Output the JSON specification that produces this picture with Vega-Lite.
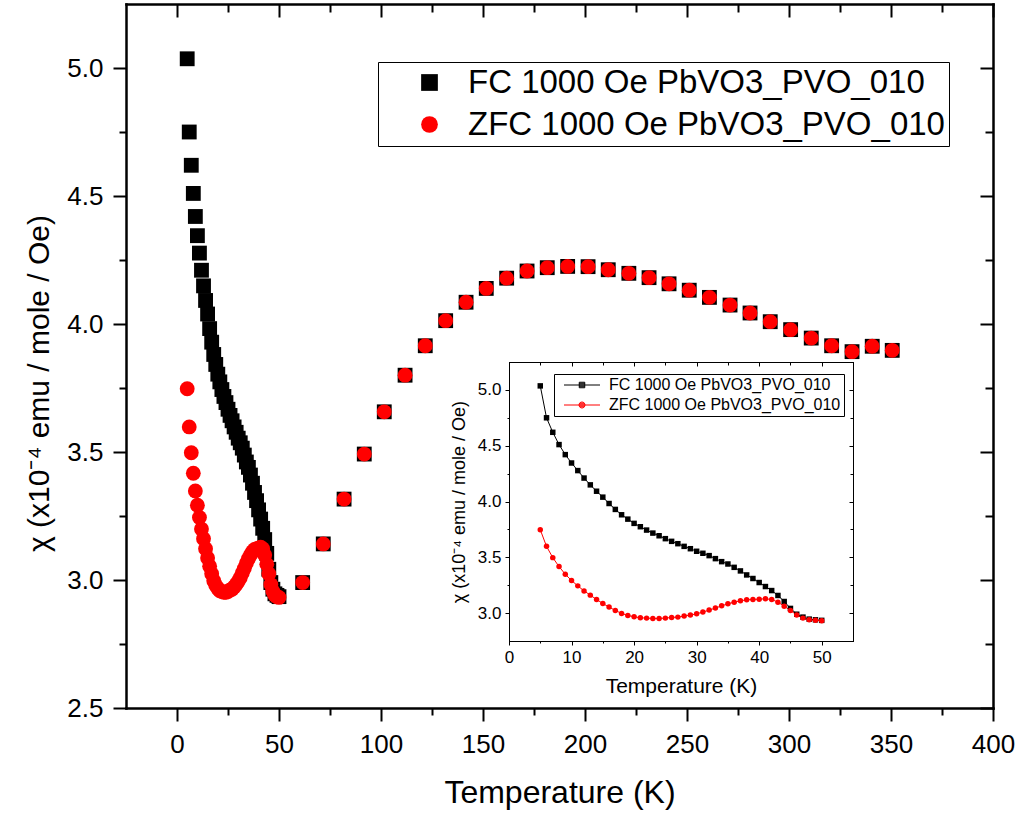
{
  "$schema": "https://vega.github.io/schema/vega-lite/v6.json",
  "width": 867,
  "height": 704,
  "autosize": {"type": "none"},
  "padding": {"left": 126, "top": 4, "right": 26, "bottom": 105},
  "background": "white",
  "config": {
    "view": {"stroke": null},
    "font": "Liberation Sans",
    "axis": {"grid": false, "domainColor": "#000000", "tickColor": "#000000", "labelColor": "#000000", "titleColor": "#000000", "titleFontWeight": "normal", "labelFont": "Liberation Sans", "titleFont": "Liberation Sans", "labelOverlap": false, "labelFlush": false, "domainCap": "square"},
    "legend": {"labelFont": "Liberation Sans", "labelColor": "#000000"}
  },
  "datasets": {
    "d": [
      {"T": 5, "chi": 5.036, "series": "FC 1000 Oe PbVO3_PVO_010"},
      {"T": 6, "chi": 4.75, "series": "FC 1000 Oe PbVO3_PVO_010"},
      {"T": 7, "chi": 4.62, "series": "FC 1000 Oe PbVO3_PVO_010"},
      {"T": 8, "chi": 4.51, "series": "FC 1000 Oe PbVO3_PVO_010"},
      {"T": 9, "chi": 4.42, "series": "FC 1000 Oe PbVO3_PVO_010"},
      {"T": 10, "chi": 4.345, "series": "FC 1000 Oe PbVO3_PVO_010"},
      {"T": 11, "chi": 4.277, "series": "FC 1000 Oe PbVO3_PVO_010"},
      {"T": 12, "chi": 4.21, "series": "FC 1000 Oe PbVO3_PVO_010"},
      {"T": 13, "chi": 4.149, "series": "FC 1000 Oe PbVO3_PVO_010"},
      {"T": 14, "chi": 4.092, "series": "FC 1000 Oe PbVO3_PVO_010"},
      {"T": 15, "chi": 4.039, "series": "FC 1000 Oe PbVO3_PVO_010"},
      {"T": 16, "chi": 3.982, "series": "FC 1000 Oe PbVO3_PVO_010"},
      {"T": 17, "chi": 3.929, "series": "FC 1000 Oe PbVO3_PVO_010"},
      {"T": 18, "chi": 3.881, "series": "FC 1000 Oe PbVO3_PVO_010"},
      {"T": 19, "chi": 3.842, "series": "FC 1000 Oe PbVO3_PVO_010"},
      {"T": 20, "chi": 3.804, "series": "FC 1000 Oe PbVO3_PVO_010"},
      {"T": 21, "chi": 3.774, "series": "FC 1000 Oe PbVO3_PVO_010"},
      {"T": 22, "chi": 3.744, "series": "FC 1000 Oe PbVO3_PVO_010"},
      {"T": 23, "chi": 3.717, "series": "FC 1000 Oe PbVO3_PVO_010"},
      {"T": 24, "chi": 3.693, "series": "FC 1000 Oe PbVO3_PVO_010"},
      {"T": 25, "chi": 3.667, "series": "FC 1000 Oe PbVO3_PVO_010"},
      {"T": 26, "chi": 3.643, "series": "FC 1000 Oe PbVO3_PVO_010"},
      {"T": 27, "chi": 3.622, "series": "FC 1000 Oe PbVO3_PVO_010"},
      {"T": 28, "chi": 3.598, "series": "FC 1000 Oe PbVO3_PVO_010"},
      {"T": 29, "chi": 3.577, "series": "FC 1000 Oe PbVO3_PVO_010"},
      {"T": 30, "chi": 3.554, "series": "FC 1000 Oe PbVO3_PVO_010"},
      {"T": 31, "chi": 3.536, "series": "FC 1000 Oe PbVO3_PVO_010"},
      {"T": 32, "chi": 3.515, "series": "FC 1000 Oe PbVO3_PVO_010"},
      {"T": 33, "chi": 3.488, "series": "FC 1000 Oe PbVO3_PVO_010"},
      {"T": 34, "chi": 3.461, "series": "FC 1000 Oe PbVO3_PVO_010"},
      {"T": 35, "chi": 3.44, "series": "FC 1000 Oe PbVO3_PVO_010"},
      {"T": 36, "chi": 3.41, "series": "FC 1000 Oe PbVO3_PVO_010"},
      {"T": 37, "chi": 3.378, "series": "FC 1000 Oe PbVO3_PVO_010"},
      {"T": 38, "chi": 3.342, "series": "FC 1000 Oe PbVO3_PVO_010"},
      {"T": 39, "chi": 3.31, "series": "FC 1000 Oe PbVO3_PVO_010"},
      {"T": 40, "chi": 3.274, "series": "FC 1000 Oe PbVO3_PVO_010"},
      {"T": 41, "chi": 3.238, "series": "FC 1000 Oe PbVO3_PVO_010"},
      {"T": 42, "chi": 3.202, "series": "FC 1000 Oe PbVO3_PVO_010"},
      {"T": 43, "chi": 3.158, "series": "FC 1000 Oe PbVO3_PVO_010"},
      {"T": 44, "chi": 3.104, "series": "FC 1000 Oe PbVO3_PVO_010"},
      {"T": 45, "chi": 3.042, "series": "FC 1000 Oe PbVO3_PVO_010"},
      {"T": 46, "chi": 2.99, "series": "FC 1000 Oe PbVO3_PVO_010"},
      {"T": 47, "chi": 2.964, "series": "FC 1000 Oe PbVO3_PVO_010"},
      {"T": 48, "chi": 2.946, "series": "FC 1000 Oe PbVO3_PVO_010"},
      {"T": 49, "chi": 2.94, "series": "FC 1000 Oe PbVO3_PVO_010"},
      {"T": 50, "chi": 2.935, "series": "FC 1000 Oe PbVO3_PVO_010"},
      {"T": 61.6, "chi": 2.99, "series": "FC 1000 Oe PbVO3_PVO_010"},
      {"T": 71.7, "chi": 3.141, "series": "FC 1000 Oe PbVO3_PVO_010"},
      {"T": 81.9, "chi": 3.316, "series": "FC 1000 Oe PbVO3_PVO_010"},
      {"T": 91.8, "chi": 3.492, "series": "FC 1000 Oe PbVO3_PVO_010"},
      {"T": 101.6, "chi": 3.657, "series": "FC 1000 Oe PbVO3_PVO_010"},
      {"T": 111.8, "chi": 3.8, "series": "FC 1000 Oe PbVO3_PVO_010"},
      {"T": 121.7, "chi": 3.915, "series": "FC 1000 Oe PbVO3_PVO_010"},
      {"T": 131.7, "chi": 4.013, "series": "FC 1000 Oe PbVO3_PVO_010"},
      {"T": 141.7, "chi": 4.085, "series": "FC 1000 Oe PbVO3_PVO_010"},
      {"T": 151.6, "chi": 4.139, "series": "FC 1000 Oe PbVO3_PVO_010"},
      {"T": 161.6, "chi": 4.179, "series": "FC 1000 Oe PbVO3_PVO_010"},
      {"T": 171.6, "chi": 4.207, "series": "FC 1000 Oe PbVO3_PVO_010"},
      {"T": 181.5, "chi": 4.22, "series": "FC 1000 Oe PbVO3_PVO_010"},
      {"T": 191.5, "chi": 4.225, "series": "FC 1000 Oe PbVO3_PVO_010"},
      {"T": 201.5, "chi": 4.224, "series": "FC 1000 Oe PbVO3_PVO_010"},
      {"T": 211.4, "chi": 4.212, "series": "FC 1000 Oe PbVO3_PVO_010"},
      {"T": 221.5, "chi": 4.198, "series": "FC 1000 Oe PbVO3_PVO_010"},
      {"T": 231.4, "chi": 4.181, "series": "FC 1000 Oe PbVO3_PVO_010"},
      {"T": 241.2, "chi": 4.157, "series": "FC 1000 Oe PbVO3_PVO_010"},
      {"T": 251.1, "chi": 4.132, "series": "FC 1000 Oe PbVO3_PVO_010"},
      {"T": 261, "chi": 4.104, "series": "FC 1000 Oe PbVO3_PVO_010"},
      {"T": 271.1, "chi": 4.074, "series": "FC 1000 Oe PbVO3_PVO_010"},
      {"T": 280.9, "chi": 4.043, "series": "FC 1000 Oe PbVO3_PVO_010"},
      {"T": 290.8, "chi": 4.009, "series": "FC 1000 Oe PbVO3_PVO_010"},
      {"T": 300.8, "chi": 3.978, "series": "FC 1000 Oe PbVO3_PVO_010"},
      {"T": 310.9, "chi": 3.945, "series": "FC 1000 Oe PbVO3_PVO_010"},
      {"T": 320.9, "chi": 3.915, "series": "FC 1000 Oe PbVO3_PVO_010"},
      {"T": 330.9, "chi": 3.892, "series": "FC 1000 Oe PbVO3_PVO_010"},
      {"T": 340.8, "chi": 3.913, "series": "FC 1000 Oe PbVO3_PVO_010"},
      {"T": 350.6, "chi": 3.897, "series": "FC 1000 Oe PbVO3_PVO_010"},
      {"T": 5, "chi": 3.747, "series": "ZFC 1000 Oe PbVO3_PVO_010"},
      {"T": 6, "chi": 3.598, "series": "ZFC 1000 Oe PbVO3_PVO_010"},
      {"T": 7, "chi": 3.497, "series": "ZFC 1000 Oe PbVO3_PVO_010"},
      {"T": 8, "chi": 3.417, "series": "ZFC 1000 Oe PbVO3_PVO_010"},
      {"T": 9, "chi": 3.348, "series": "ZFC 1000 Oe PbVO3_PVO_010"},
      {"T": 10, "chi": 3.292, "series": "ZFC 1000 Oe PbVO3_PVO_010"},
      {"T": 11, "chi": 3.244, "series": "ZFC 1000 Oe PbVO3_PVO_010"},
      {"T": 12, "chi": 3.199, "series": "ZFC 1000 Oe PbVO3_PVO_010"},
      {"T": 13, "chi": 3.161, "series": "ZFC 1000 Oe PbVO3_PVO_010"},
      {"T": 14, "chi": 3.122, "series": "ZFC 1000 Oe PbVO3_PVO_010"},
      {"T": 15, "chi": 3.086, "series": "ZFC 1000 Oe PbVO3_PVO_010"},
      {"T": 16, "chi": 3.054, "series": "ZFC 1000 Oe PbVO3_PVO_010"},
      {"T": 17, "chi": 3.024, "series": "ZFC 1000 Oe PbVO3_PVO_010"},
      {"T": 18, "chi": 2.997, "series": "ZFC 1000 Oe PbVO3_PVO_010"},
      {"T": 19, "chi": 2.979, "series": "ZFC 1000 Oe PbVO3_PVO_010"},
      {"T": 20, "chi": 2.967, "series": "ZFC 1000 Oe PbVO3_PVO_010"},
      {"T": 21, "chi": 2.958, "series": "ZFC 1000 Oe PbVO3_PVO_010"},
      {"T": 22, "chi": 2.955, "series": "ZFC 1000 Oe PbVO3_PVO_010"},
      {"T": 23, "chi": 2.952, "series": "ZFC 1000 Oe PbVO3_PVO_010"},
      {"T": 24, "chi": 2.952, "series": "ZFC 1000 Oe PbVO3_PVO_010"},
      {"T": 25, "chi": 2.955, "series": "ZFC 1000 Oe PbVO3_PVO_010"},
      {"T": 26, "chi": 2.961, "series": "ZFC 1000 Oe PbVO3_PVO_010"},
      {"T": 27, "chi": 2.964, "series": "ZFC 1000 Oe PbVO3_PVO_010"},
      {"T": 28, "chi": 2.973, "series": "ZFC 1000 Oe PbVO3_PVO_010"},
      {"T": 29, "chi": 2.982, "series": "ZFC 1000 Oe PbVO3_PVO_010"},
      {"T": 30, "chi": 2.994, "series": "ZFC 1000 Oe PbVO3_PVO_010"},
      {"T": 31, "chi": 3.009, "series": "ZFC 1000 Oe PbVO3_PVO_010"},
      {"T": 32, "chi": 3.027, "series": "ZFC 1000 Oe PbVO3_PVO_010"},
      {"T": 33, "chi": 3.045, "series": "ZFC 1000 Oe PbVO3_PVO_010"},
      {"T": 34, "chi": 3.065, "series": "ZFC 1000 Oe PbVO3_PVO_010"},
      {"T": 35, "chi": 3.083, "series": "ZFC 1000 Oe PbVO3_PVO_010"},
      {"T": 36, "chi": 3.098, "series": "ZFC 1000 Oe PbVO3_PVO_010"},
      {"T": 37, "chi": 3.11, "series": "ZFC 1000 Oe PbVO3_PVO_010"},
      {"T": 38, "chi": 3.119, "series": "ZFC 1000 Oe PbVO3_PVO_010"},
      {"T": 39, "chi": 3.122, "series": "ZFC 1000 Oe PbVO3_PVO_010"},
      {"T": 40, "chi": 3.125, "series": "ZFC 1000 Oe PbVO3_PVO_010"},
      {"T": 41, "chi": 3.128, "series": "ZFC 1000 Oe PbVO3_PVO_010"},
      {"T": 42, "chi": 3.122, "series": "ZFC 1000 Oe PbVO3_PVO_010"},
      {"T": 43, "chi": 3.098, "series": "ZFC 1000 Oe PbVO3_PVO_010"},
      {"T": 44, "chi": 3.062, "series": "ZFC 1000 Oe PbVO3_PVO_010"},
      {"T": 45, "chi": 3.024, "series": "ZFC 1000 Oe PbVO3_PVO_010"},
      {"T": 46, "chi": 2.982, "series": "ZFC 1000 Oe PbVO3_PVO_010"},
      {"T": 47, "chi": 2.955, "series": "ZFC 1000 Oe PbVO3_PVO_010"},
      {"T": 48, "chi": 2.94, "series": "ZFC 1000 Oe PbVO3_PVO_010"},
      {"T": 49, "chi": 2.935, "series": "ZFC 1000 Oe PbVO3_PVO_010"},
      {"T": 50, "chi": 2.932, "series": "ZFC 1000 Oe PbVO3_PVO_010"},
      {"T": 61.6, "chi": 2.99, "series": "ZFC 1000 Oe PbVO3_PVO_010"},
      {"T": 71.7, "chi": 3.141, "series": "ZFC 1000 Oe PbVO3_PVO_010"},
      {"T": 81.9, "chi": 3.316, "series": "ZFC 1000 Oe PbVO3_PVO_010"},
      {"T": 91.8, "chi": 3.492, "series": "ZFC 1000 Oe PbVO3_PVO_010"},
      {"T": 101.6, "chi": 3.657, "series": "ZFC 1000 Oe PbVO3_PVO_010"},
      {"T": 111.8, "chi": 3.8, "series": "ZFC 1000 Oe PbVO3_PVO_010"},
      {"T": 121.7, "chi": 3.915, "series": "ZFC 1000 Oe PbVO3_PVO_010"},
      {"T": 131.7, "chi": 4.013, "series": "ZFC 1000 Oe PbVO3_PVO_010"},
      {"T": 141.7, "chi": 4.085, "series": "ZFC 1000 Oe PbVO3_PVO_010"},
      {"T": 151.6, "chi": 4.139, "series": "ZFC 1000 Oe PbVO3_PVO_010"},
      {"T": 161.6, "chi": 4.179, "series": "ZFC 1000 Oe PbVO3_PVO_010"},
      {"T": 171.6, "chi": 4.207, "series": "ZFC 1000 Oe PbVO3_PVO_010"},
      {"T": 181.5, "chi": 4.22, "series": "ZFC 1000 Oe PbVO3_PVO_010"},
      {"T": 191.5, "chi": 4.225, "series": "ZFC 1000 Oe PbVO3_PVO_010"},
      {"T": 201.5, "chi": 4.224, "series": "ZFC 1000 Oe PbVO3_PVO_010"},
      {"T": 211.4, "chi": 4.212, "series": "ZFC 1000 Oe PbVO3_PVO_010"},
      {"T": 221.5, "chi": 4.198, "series": "ZFC 1000 Oe PbVO3_PVO_010"},
      {"T": 231.4, "chi": 4.181, "series": "ZFC 1000 Oe PbVO3_PVO_010"},
      {"T": 241.2, "chi": 4.157, "series": "ZFC 1000 Oe PbVO3_PVO_010"},
      {"T": 251.1, "chi": 4.132, "series": "ZFC 1000 Oe PbVO3_PVO_010"},
      {"T": 261, "chi": 4.104, "series": "ZFC 1000 Oe PbVO3_PVO_010"},
      {"T": 271.1, "chi": 4.074, "series": "ZFC 1000 Oe PbVO3_PVO_010"},
      {"T": 280.9, "chi": 4.043, "series": "ZFC 1000 Oe PbVO3_PVO_010"},
      {"T": 290.8, "chi": 4.009, "series": "ZFC 1000 Oe PbVO3_PVO_010"},
      {"T": 300.8, "chi": 3.978, "series": "ZFC 1000 Oe PbVO3_PVO_010"},
      {"T": 310.9, "chi": 3.945, "series": "ZFC 1000 Oe PbVO3_PVO_010"},
      {"T": 320.9, "chi": 3.915, "series": "ZFC 1000 Oe PbVO3_PVO_010"},
      {"T": 330.9, "chi": 3.892, "series": "ZFC 1000 Oe PbVO3_PVO_010"},
      {"T": 340.8, "chi": 3.913, "series": "ZFC 1000 Oe PbVO3_PVO_010"},
      {"T": 350.6, "chi": 3.897, "series": "ZFC 1000 Oe PbVO3_PVO_010"}
    ]
  },
  "data": {"name": "d"},
  "layer": [
    {
      "layer": [
        {
          "mark": {"type": "point", "filled": true, "size": 220, "opacity": 1},
          "encoding": {
            "x": {"field": "T", "type": "quantitative", "scale": {"domain": [-25, 400], "nice": false, "zero": false},
              "axis": {"orient": "bottom", "values": [0, 50, 100, 150, 200, 250, 300, 350, 400], "tickSize": 13, "tickWidth": 2, "domainWidth": 2.5, "labelFontSize": 26, "labelPadding": 10, "title": "Temperature (K)", "titleFontSize": 32, "titlePadding": 20}},
            "y": {"field": "chi", "type": "quantitative", "scale": {"domain": [2.5, 5.25], "nice": false, "zero": false},
              "axis": {"orient": "left", "values": [2.5, 3, 3.5, 4, 4.5, 5], "format": ".1f", "tickSize": 13, "tickWidth": 2, "domainWidth": 2.5, "labelFontSize": 26, "labelPadding": 10, "title": "χ (x10⁻⁴ emu / mole / Oe)", "titleFontSize": 30, "titlePadding": 12, "titleY": 379}},
            "color": {"field": "series", "type": "nominal",
              "scale": {"domain": ["FC 1000 Oe PbVO3_PVO_010", "ZFC 1000 Oe PbVO3_PVO_010"], "range": ["#000000", "#ff0000"]},
              "legend": {"orient": "none", "legendX": 252, "legendY": 58, "title": null, "labelFontSize": 33, "symbolSize": 280, "padding": 4, "rowPadding": 8, "symbolOffset": 31, "labelOffset": 22, "strokeColor": "#000000", "fillColor": "#ffffff", "labelLimit": 0}},
            "shape": {"field": "series", "type": "nominal",
              "scale": {"domain": ["FC 1000 Oe PbVO3_PVO_010", "ZFC 1000 Oe PbVO3_PVO_010"], "range": ["square", "circle"]},
              "legend": {"orient": "none", "legendX": 252, "legendY": 58, "title": null, "labelFontSize": 33, "symbolSize": 280, "padding": 4, "rowPadding": 8, "symbolOffset": 31, "labelOffset": 22, "strokeColor": "#000000", "fillColor": "#ffffff", "labelLimit": 0}}
          }
        },
        {
          "mark": {"type": "point", "opacity": 0},
          "encoding": {
            "x": {"field": "T", "type": "quantitative", "scale": {"domain": [-25, 400], "nice": false, "zero": false},
              "axis": {"orient": "bottom", "values": [25, 75, 125, 175, 225, 275, 325, 375], "tickSize": 7, "tickWidth": 2, "domain": false, "labels": false, "title": null}},
            "y": {"field": "chi", "type": "quantitative", "scale": {"domain": [2.5, 5.25], "nice": false, "zero": false},
              "axis": {"orient": "left", "values": [2.75, 3.25, 3.75, 4.25, 4.75], "tickSize": 7, "tickWidth": 2, "domain": false, "labels": false, "title": null}}
          }
        },
        {
          "mark": {"type": "point", "opacity": 0},
          "encoding": {
            "x": {"field": "T", "type": "quantitative", "scale": {"domain": [-25, 400], "nice": false, "zero": false},
              "axis": {"orient": "bottom", "offset": -704, "values": [0, 50, 100, 150, 200, 250, 300, 350, 400], "tickSize": 13, "tickWidth": 2, "domainWidth": 2.5, "labels": false, "title": null}},
            "y": {"field": "chi", "type": "quantitative", "scale": {"domain": [2.5, 5.25], "nice": false, "zero": false},
              "axis": {"orient": "left", "offset": -867, "values": [2.5, 3, 3.5, 4, 4.5, 5], "tickSize": 13, "tickWidth": 2, "domainWidth": 2.5, "labels": false, "title": null}}
          }
        },
        {
          "mark": {"type": "point", "opacity": 0},
          "encoding": {
            "x": {"field": "T", "type": "quantitative", "scale": {"domain": [-25, 400], "nice": false, "zero": false},
              "axis": {"orient": "bottom", "offset": -704, "values": [25, 75, 125, 175, 225, 275, 325, 375], "tickSize": 8, "tickWidth": 2, "domain": false, "labels": false, "title": null}},
            "y": {"field": "chi", "type": "quantitative", "scale": {"domain": [2.5, 5.25], "nice": false, "zero": false},
              "axis": {"orient": "left", "offset": -867, "values": [2.75, 3.25, 3.75, 4.25, 4.75], "tickSize": 8, "tickWidth": 2, "domain": false, "labels": false, "title": null}}
          }
        }
      ],
      "resolve": {"axis": {"x": "independent", "y": "independent"}}
    },
    {
      "transform": [{"filter": "datum.T <= 50"}],
      "layer": [
        {
          "mark": {"type": "line", "strokeWidth": 1},
          "encoding": {
            "x": {"field": "T", "type": "quantitative", "scale": {"domain": [0, 55], "nice": false, "zero": false, "range": [383, 727]},
              "axis": {"orient": "bottom", "offset": -67, "values": [0, 10, 20, 30, 40, 50], "tickSize": 4, "tickWidth": 1, "domainWidth": 1, "labelFontSize": 17, "labelPadding": 4, "title": "Temperature (K)", "titleFontSize": 21, "titlePadding": 10}},
            "y": {"field": "chi", "type": "quantitative", "scale": {"domain": [2.75, 5.25], "nice": false, "zero": false, "range": [637, 358]},
              "axis": {"orient": "left", "offset": -383, "values": [3, 3.5, 4, 4.5, 5], "format": ".1f", "tickSize": 4, "tickWidth": 1, "domainWidth": 1, "labelFontSize": 17, "labelPadding": 4, "title": "χ (x10⁻⁴ emu / mole / Oe)", "titleFontSize": 18, "titlePadding": 9}},
            "color": {"field": "series", "type": "nominal",
              "scale": {"range": ["#000000", "#ff0000"]}, "legend": null}
          }
        },
        {
          "transform": [{"filter": {"field": "series", "equal": "FC 1000 Oe PbVO3_PVO_010"}}],
          "mark": {"type": "point", "shape": "square", "filled": true, "size": 30, "opacity": 1},
          "encoding": {
            "x": {"field": "T", "type": "quantitative", "scale": {"domain": [0, 55], "nice": false, "zero": false, "range": [383, 727]},
              "axis": {"orient": "bottom", "offset": -67, "values": [5, 15, 25, 35, 45], "tickSize": 2, "tickWidth": 1, "domain": false, "labels": false, "title": null}},
            "y": {"field": "chi", "type": "quantitative", "scale": {"domain": [2.75, 5.25], "nice": false, "zero": false, "range": [637, 358]},
              "axis": {"orient": "left", "offset": -383, "values": [3.25, 3.75, 4.25, 4.75], "tickSize": 2, "tickWidth": 1, "domain": false, "labels": false, "title": null}},
            "color": {"field": "series", "type": "nominal",
              "scale": {"range": ["#000000", "#ff0000"]}, "legend": null}
          }
        },
        {
          "transform": [{"filter": {"field": "series", "equal": "ZFC 1000 Oe PbVO3_PVO_010"}}],
          "mark": {"type": "point", "shape": "circle", "filled": true, "size": 30, "opacity": 1},
          "encoding": {
            "x": {"field": "T", "type": "quantitative", "scale": {"domain": [0, 55], "nice": false, "zero": false, "range": [383, 727]},
              "axis": {"orient": "bottom", "offset": -346, "values": [0, 10, 20, 30, 40, 50], "tickSize": 4, "tickWidth": 1, "domainWidth": 1, "labels": false, "title": null}},
            "y": {"field": "chi", "type": "quantitative", "scale": {"domain": [2.75, 5.25], "nice": false, "zero": false, "range": [637, 358]},
              "axis": {"orient": "left", "offset": -727, "values": [3, 3.5, 4, 4.5, 5], "tickSize": 4, "tickWidth": 1, "domainWidth": 1, "labels": false, "title": null}},
            "color": {"field": "series", "type": "nominal",
              "scale": {"range": ["#000000", "#ff0000"]}, "legend": null}
          }
        },
        {
          "mark": {"type": "point", "filled": true, "opacity": 0},
          "encoding": {
            "x": {"field": "T", "type": "quantitative", "scale": {"domain": [0, 55], "nice": false, "zero": false, "range": [383, 727]},
              "axis": {"orient": "bottom", "offset": -346, "values": [5, 15, 25, 35, 45], "tickSize": 3, "tickWidth": 1, "domain": false, "labels": false, "title": null}},
            "y": {"field": "chi", "type": "quantitative", "scale": {"domain": [2.75, 5.25], "nice": false, "zero": false, "range": [637, 358]},
              "axis": {"orient": "left", "offset": -727, "values": [3.25, 3.75, 4.25, 4.75], "tickSize": 3, "tickWidth": 1, "domain": false, "labels": false, "title": null}},
            "color": {"field": "series", "type": "nominal",
              "scale": {"range": ["#000000", "#ff0000"]},
              "legend": {"orient": "none", "legendX": 428, "legendY": 370, "title": null, "labelFontSize": 16, "symbolSize": 144, "symbolStrokeWidth": 1, "symbolOpacity": 1, "symbolFillColor": "transparent", "padding": 3, "rowPadding": 4, "symbolOffset": 17, "labelOffset": 19, "strokeColor": "#000000", "fillColor": "#ffffff", "labelLimit": 0}},
            "stroke": {"field": "series", "type": "nominal",
              "scale": {"range": ["#000000", "#ff0000"]},
              "legend": {"orient": "none", "legendX": 428, "legendY": 370, "title": null, "labelFontSize": 16, "symbolSize": 144, "symbolStrokeWidth": 1, "symbolOpacity": 1, "symbolFillColor": "transparent", "padding": 3, "rowPadding": 4, "symbolOffset": 17, "labelOffset": 19, "strokeColor": "#000000", "fillColor": "#ffffff", "labelLimit": 0}},
            "shape": {"field": "series", "type": "nominal",
              "scale": {"range": ["M-3,0H3M-0.46,-0.46H0.46V0.46H-0.46ZM-0.46,-0.3H0.46M-0.46,-0.15H0.46M-0.46,0.15H0.46M-0.46,0.3H0.46", "M-3,0H3M0.5,0A0.5,0.5,0,1,1,-0.5,0A0.5,0.5,0,1,1,0.5,0ZM-0.4,-0.3H0.4M-0.477,-0.15H0.477M-0.477,0.15H0.477M-0.4,0.3H0.4"]},
              "legend": {"orient": "none", "legendX": 428, "legendY": 370, "title": null, "labelFontSize": 16, "symbolSize": 144, "symbolStrokeWidth": 1, "symbolOpacity": 1, "symbolFillColor": "transparent", "padding": 3, "rowPadding": 4, "symbolOffset": 17, "labelOffset": 19, "strokeColor": "#000000", "fillColor": "#ffffff", "labelLimit": 0}}
          }
        }
      ],
      "resolve": {"axis": {"x": "independent", "y": "independent"}}
    }
  ],
  "resolve": {"scale": {"x": "independent", "y": "independent", "color": "independent", "shape": "independent", "stroke": "independent"}}
}
